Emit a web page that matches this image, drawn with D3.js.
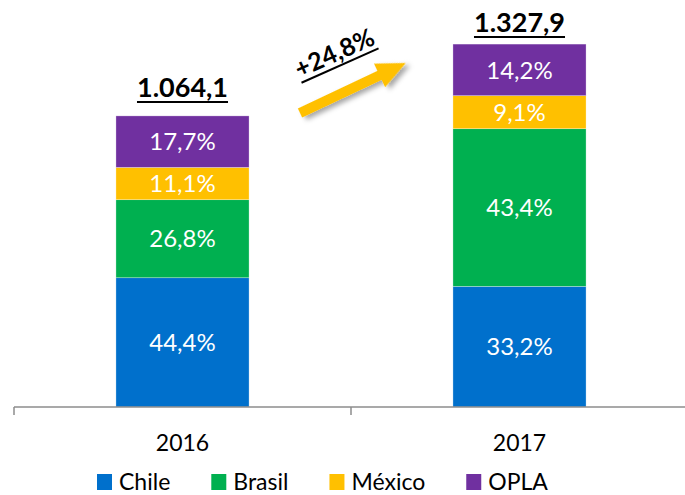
<!DOCTYPE html>
<html>
<head>
<meta charset="utf-8">
<script src="https://cdn.jsdelivr.net/npm/d3@7"></script>
<style>
  body { margin: 0; background: #fff; }
  text { font-family: Lato, "Open Sans", sans-serif; }
</style>
</head>
<body>
<div id="chart"></div>
<script>
// datos del gráfico
var years = ["2016", "2017"];
var series = ["Chile", "Brasil", "México", "OPLA"];
var totals = [1064.1, 1327.9];
var chile = [44.4, 33.2];
var brasil = [26.8, 43.4];
var mexico = [11.1, 9.1];
var opla = [17.7, 14.2];
var colors = ["#0070CC", "#00B050", "#FFC000", "#7030A0"];

var width = 685, height = 495;

var es = d3.formatLocale({ decimal: ",", thousands: ".", grouping: [3], currency: ["", ""] });
var fmtTotal = es.format(",.1f");
var fmtPct = es.format(".1f");

var svg = d3.select("#chart")
            .append("svg")
            .attr("width", width)
            .attr("height", height);

// sombra per la freccia
var defs = svg.append("defs");
var filt = defs.append("filter").attr("id", "shadow").attr("x", "-20%").attr("y", "-50%").attr("width", "150%").attr("height", "200%");
filt.append("feDropShadow").attr("dx", 3).attr("dy", 4).attr("stdDeviation", 2.5)
    .attr("flood-color", "#000").attr("flood-opacity", 0.35);

var x = d3.scaleBand()
          .domain(years)
          .range([14, 688])
          .paddingInner(0.605)
          .paddingOuter(0.3025);

var y = d3.scaleLinear()
          .domain([0, 1400])
          .range([407, 24]);

// tabla para el stack (valores absolutos)
var table = years.map(function(yr, i) {
    return {
        year: yr,
        total: totals[i],
        "Chile": chile[i] * totals[i] / 100,
        "Brasil": brasil[i] * totals[i] / 100,
        "México": mexico[i] * totals[i] / 100,
        "OPLA": opla[i] * totals[i] / 100,
        pct: { "Chile": chile[i], "Brasil": brasil[i], "México": mexico[i], "OPLA": opla[i] }
    };
});

var stacked = d3.stack().keys(series)(table);

var layer = svg.append("g")
               .selectAll("g")
               .data(stacked)
               .enter()
               .append("g")
               .attr("fill", function(d, i) { return colors[i]; });

layer.selectAll("rect")
     .data(function(d) { return d.map(function(p) { p.key = d.key; return p; }); })
     .enter()
     .append("rect")
     .attr("x", function(d) { return x(d.data.year); })
     .attr("y", function(d) { return y(d[1]); })
     .attr("width", x.bandwidth())
     .attr("height", function(d) { return y(d[0]) - y(d[1]); })
     .attr("stroke", "#fff")
     .attr("stroke-width", 0.6)
     .attr("stroke-opacity", 0.5);

layer.selectAll("text")
     .data(function(d) { return d; })
     .enter()
     .append("text")
     .attr("x", function(d) { return x(d.data.year) + x.bandwidth() / 2; })
     .attr("y", function(d) { return (y(d[0]) + y(d[1])) / 2; })
     .attr("dy", "0.36em")
     .attr("text-anchor", "middle")
     .attr("fill", "#fff")
     .style("font-size", "24px")
     .text(function(d) { return fmtPct(d.data.pct[d.key]) + "%"; });

// totales arriba de las barras
var tot = svg.append("g")
             .selectAll("g")
             .data(table)
             .enter()
             .append("g")
             .attr("transform", function(d) {
                 var by = Math.max(y(d.total) - 19, 32);
                 return "translate(" + (x(d.year) + x.bandwidth() / 2) + "," + by + ")";
             });

tot.append("text")
   .attr("text-anchor", "middle")
   .attr("fill", "#000")
   .style("font-size", "27px")
   .style("font-weight", "bold")
   .text(function(d) { return fmtTotal(d.total); })
   .each(function() {
       var w = this.getComputedTextLength();
       d3.select(this.parentNode).append("line")
         .attr("x1", -w / 2).attr("x2", w / 2)
         .attr("y1", 5).attr("y2", 5)
         .attr("stroke", "#000").attr("stroke-width", 2);
   });

// eje X
var axisG = svg.append("g").attr("transform", "translate(0,407)");
axisG.append("line")
     .attr("x1", 14).attr("x2", 688)
     .attr("y1", 0).attr("y2", 0)
     .attr("stroke", "#8c8c8c").attr("stroke-width", 1.5);

var bounds = years.map(function(yr) { return x(yr) - (x.step() - x.bandwidth()) / 2; });
bounds.push(bounds[bounds.length - 1] + x.step());
axisG.selectAll(".tk")
     .data(bounds)
     .enter()
     .append("line")
     .attr("x1", function(d) { return d; }).attr("x2", function(d) { return d; })
     .attr("y1", 0).attr("y2", 8)
     .attr("stroke", "#8c8c8c").attr("stroke-width", 1.5);

var labels = svg.append("g")
                .attr("transform", "translate(0,407)")
                .call(d3.axisBottom(x).tickSize(0).tickPadding(28));
labels.select(".domain").remove();
labels.selectAll("text")
      .attr("fill", "#000")
      .style("font-family", "Lato, 'Open Sans', sans-serif")
      .style("font-size", "23px");

// freccia di crescita
var growth = (totals[1] / totals[0] - 1) * 100;
var arrow = svg.append("g")
               .attr("transform", "translate(300,113) rotate(-25.3)");
arrow.append("path")
     .attr("d", "M0,-5 L88,-5 L88,-13 L117,0 L88,13 L88,5 L0,5 Z")
     .attr("fill", "#FFC000")
     .attr("filter", "url(#shadow)");

var gl = svg.append("g")
            .attr("transform", "translate(338,61) rotate(-24)");
gl.append("text")
  .attr("text-anchor", "middle")
  .attr("fill", "#000")
  .style("font-size", "25px")
  .style("font-weight", "bold")
  .text("+" + fmtPct(growth) + "%")
  .each(function() {
      var w = this.getComputedTextLength();
      gl.append("line")
        .attr("x1", -w / 2).attr("x2", w / 2)
        .attr("y1", 5).attr("y2", 5)
        .attr("stroke", "#000").attr("stroke-width", 2);
  });

// leyenda
var legend = svg.append("g").attr("transform", "translate(97,474)");
var lx = 0;
series.forEach(function(s, i) {
    var item = legend.append("g").attr("transform", "translate(" + lx + ",0)");
    item.append("rect")
        .attr("width", 15).attr("height", 16)
        .attr("fill", colors[i]);
    var t = item.append("text")
                .attr("x", 22).attr("y", 16)
                .attr("fill", "#000")
                .style("font-size", "23px")
                .text(s);
    lx += 22 + t.node().getComputedTextLength() + 41;
});
</script>
</body>
</html>
